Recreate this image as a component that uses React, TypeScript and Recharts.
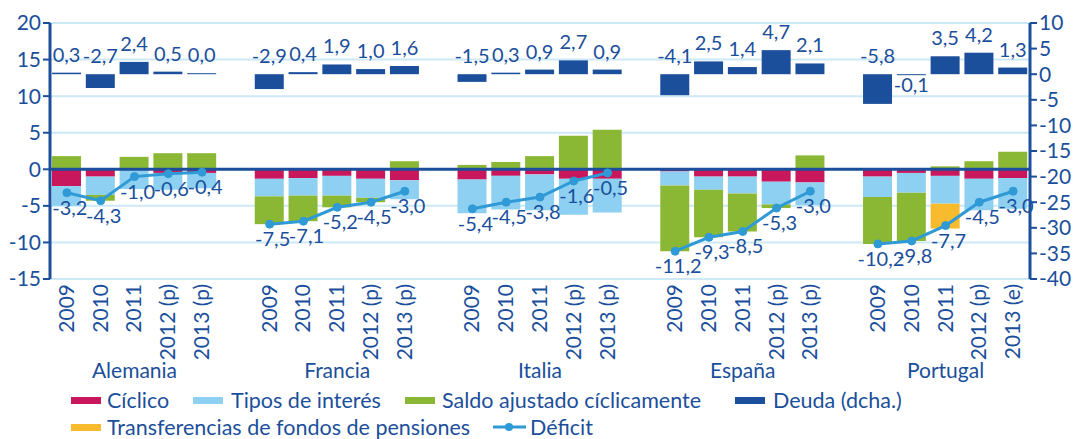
import {
  ComposedChart,
  Bar,
  Line,
  XAxis,
  YAxis,
  CartesianGrid,
  ReferenceLine,
  LabelList,
} from "recharts";

const countries = ["Alemania", "Francia", "Italia", "España", "Portugal"];

const years = [
  ["2009", "2010", "2011", "2012 (p)", "2013 (p)"],
  ["2009", "2010", "2011", "2012 (p)", "2013 (p)"],
  ["2009", "2010", "2011", "2012 (p)", "2013 (p)"],
  ["2009", "2010", "2011", "2012 (p)", "2013 (p)"],
  ["2009", "2010", "2011", "2012 (p)", "2013 (e)"],
];

const ciclico = [
  [-2.3, -1.0, 0.0, -0.5, -0.5],
  [-1.3, -1.2, -0.9, -1.3, -1.5],
  [-1.4, -0.9, -0.7, -1.3, -1.3],
  [-0.3, -1.0, -1.0, -1.7, -1.8],
  [-1.0, -0.5, -0.9, -1.3, -1.2],
];

const tipos = [
  [-2.7, -2.5, -2.7, -2.3, -2.1],
  [-2.4, -2.4, -2.7, -2.6, -2.6],
  [-4.6, -4.6, -4.9, -4.9, -4.6],
  [-1.9, -1.8, -2.3, -3.1, -3.1],
  [-2.8, -2.7, -3.8, -4.3, -4.2],
];

const saldo = [
  [1.8, -0.8, 1.7, 2.2, 2.2],
  [-3.8, -3.5, -1.6, -0.6, 1.1],
  [0.6, 1.0, 1.8, 4.6, 5.4],
  [-9.0, -6.5, -5.2, -0.5, 1.9],
  [-6.4, -6.6, 0.4, 1.1, 2.4],
];

const transferencias = [
  [0, 0, 0, 0, 0],
  [0, 0, 0, 0, 0],
  [0, 0, 0, 0, 0],
  [0, 0, 0, 0, 0],
  [0, 0, -3.4, 0, 0],
];

const deuda = [
  [0.3, -2.7, 2.4, 0.5, 0.0],
  [-2.9, 0.4, 1.9, 1.0, 1.6],
  [-1.5, 0.3, 0.9, 2.7, 0.9],
  [-4.1, 2.5, 1.4, 4.7, 2.1],
  [-5.8, -0.1, 3.5, 4.2, 1.3],
];

const deficit = [
  [-3.2, -4.3, -1.0, -0.6, -0.4],
  [-7.5, -7.1, -5.2, -4.5, -3.0],
  [-5.4, -4.5, -3.8, -1.6, -0.5],
  [-11.2, -9.3, -8.5, -5.3, -3.0],
  [-10.2, -9.8, -7.7, -4.5, -3.0],
];

const leftTicks = [-15, -10, -5, 0, 5, 10, 15, 20];
const rightTicks = [-40, -35, -30, -25, -20, -15, -10, -5, 0, 5, 10];

const BLUE = "#1b4f9b";
const RED = "#c8175c";
const LIGHT = "#8dd0f1";
const GREEN = "#8bb834";
const YELLOW = "#f8bb2e";
const LINE = "#2f9ad5";
const GRID = "#cde9f6";
const FONT = "Lato, Roboto, sans-serif";

const CHART_H = 439;
const XAXIS_H = 160;
const PLOT_BOTTOM = CHART_H - XAXIS_H;

// one row per bar, with an empty row between countries
const rows: any[] = [];
countries.forEach((c, ci) => {
  if (ci > 0) rows.push({ key: `gap${ci}`, year: "", country: "" });
  years[ci].forEach((y, yi) => {
    rows.push({
      key: `${c}-${yi}`,
      year: y,
      country: yi === 2 ? c : "",
      ciclico: ciclico[ci][yi],
      tipos: tipos[ci][yi],
      saldo: saldo[ci][yi],
      transferencias: transferencias[ci][yi],
      deuda: deuda[ci][yi],
      deficit: deficit[ci][yi],
    });
  });
});

const fmt = (v: number) => v.toFixed(1).replace(".", ",");

const YearTick = (props: any) => {
  const { x, index } = props;
  const row = rows[index];
  if (!row || !row.year) return null;
  return (
    <g>
      <text
        x={0}
        y={0}
        transform={`translate(${x + 7},${PLOT_BOTTOM + 5}) rotate(-90)`}
        textAnchor="end"
        fill={BLUE}
        fontSize={21}
        fontFamily={FONT}
      >
        {row.year}
      </text>
      {row.country && (
        <text x={x} y={PLOT_BOTTOM + 99} textAnchor="middle" fill={BLUE} fontSize={21} fontFamily={FONT}>
          {row.country}
        </text>
      )}
    </g>
  );
};

const DeudaLabel = (props: any) => {
  const { x, y, width, height, value } = props;
  if (value === undefined || value === null) return null;
  const top = Math.min(y, y + height);
  const bottom = Math.max(y, y + height);
  const below = value < 0 && value > -0.5;
  return (
    <text
      x={x + width / 2}
      y={below ? bottom + 17 : top - 11}
      textAnchor="middle"
      fill={BLUE}
      fontSize={20}
      fontFamily={FONT}
    >
      {fmt(value)}
    </text>
  );
};

const DeficitLabel = (props: any) => {
  const { x, y, value } = props;
  if (value === undefined || value === null) return null;
  return (
    <text x={x + 3} y={y + 22} textAnchor="middle" fill={BLUE} fontSize={20} fontFamily={FONT}>
      {fmt(value)}
    </text>
  );
};

const legendRow1 = [
  { name: "Cíclico", color: RED, sx: 71, tx: 107 },
  { name: "Tipos de interés", color: LIGHT, sx: 193, tx: 231 },
  { name: "Saldo ajustado cíclicamente", color: GREEN, sx: 405, tx: 442 },
  { name: "Deuda (dcha.)", color: BLUE, sx: 735, tx: 773 },
];

export default function App() {
  return (
    <div
      style={{
        position: "absolute",
        left: 0,
        top: 0,
        width: 1083,
        height: 439,
        background: "#fff",
        fontFamily: FONT,
        color: BLUE,
      }}
    >
      <ComposedChart
        width={1083}
        height={CHART_H}
        data={rows}
        stackOffset="sign"
        barSize={29}
        margin={{ top: 23, right: 0, left: 0, bottom: 0 }}
      >
        <CartesianGrid yAxisId="left" xAxisId="main" vertical={false} stroke={GRID} strokeWidth={2} />
        <XAxis
          xAxisId="main"
          dataKey="key"
          interval={0}
          height={XAXIS_H}
          axisLine={false}
          tickLine={false}
          tick={<YearTick />}
        />
        <XAxis xAxisId="d" dataKey="key" hide />
        <YAxis
          yAxisId="left"
          width={50}
          domain={[-15, 20]}
          ticks={leftTicks}
          interval={0}
          axisLine={{ stroke: BLUE, strokeWidth: 3 }}
          tickLine={{ stroke: BLUE, strokeWidth: 2 }}
          tickSize={7}
          tick={{ fill: BLUE, fontSize: 21, fontFamily: FONT }}
        />
        <YAxis
          yAxisId="right"
          orientation="right"
          width={53}
          domain={[-40, 10]}
          ticks={rightTicks}
          interval={0}
          axisLine={{ stroke: BLUE, strokeWidth: 3 }}
          tickLine={{ stroke: BLUE, strokeWidth: 2 }}
          tickSize={7}
          tick={{ fill: BLUE, fontSize: 21, fontFamily: FONT }}
        />
        <Bar xAxisId="main" yAxisId="left" dataKey="ciclico" stackId="s" fill={RED} isAnimationActive={false} />
        <Bar xAxisId="main" yAxisId="left" dataKey="tipos" stackId="s" fill={LIGHT} isAnimationActive={false} />
        <Bar xAxisId="main" yAxisId="left" dataKey="saldo" stackId="s" fill={GREEN} isAnimationActive={false} />
        <Bar
          xAxisId="main"
          yAxisId="left"
          dataKey="transferencias"
          stackId="s"
          fill={YELLOW}
          isAnimationActive={false}
        />
        <Bar xAxisId="d" yAxisId="right" dataKey="deuda" fill={BLUE} minPointSize={1} isAnimationActive={false}>
          <LabelList dataKey="deuda" content={<DeudaLabel />} />
        </Bar>
        <ReferenceLine xAxisId="main" yAxisId="left" y={0} stroke={BLUE} strokeWidth={3} />
        <Line
          xAxisId="main"
          yAxisId="left"
          dataKey="deficit"
          stroke={LINE}
          strokeWidth={3}
          dot={{ r: 4, fill: LINE, stroke: LINE, strokeWidth: 1 }}
          connectNulls={false}
          isAnimationActive={false}
        >
          <LabelList dataKey="deficit" content={<DeficitLabel />} />
        </Line>
      </ComposedChart>

      {legendRow1.map((l) => (
        <div key={l.name}>
          <div
            style={{ position: "absolute", left: l.sx, top: 397, width: 30, height: 7, background: l.color }}
          />
          <div style={{ position: "absolute", left: l.tx, top: 387, fontSize: 21.5, lineHeight: "26px" }}>
            {l.name}
          </div>
        </div>
      ))}
      <div style={{ position: "absolute", left: 71, top: 424, width: 30, height: 7, background: YELLOW }} />
      <div style={{ position: "absolute", left: 107, top: 414, fontSize: 21.5, lineHeight: "26px" }}>
        Transferencias de fondos de pensiones
      </div>
      <svg style={{ position: "absolute", left: 493, top: 420 }} width={33} height={14}>
        <line x1={0} y1={7} x2={33} y2={7} stroke={LINE} strokeWidth={3} />
        <circle cx={16} cy={7} r={4} fill={LINE} />
      </svg>
      <div style={{ position: "absolute", left: 530, top: 414, fontSize: 21.5, lineHeight: "26px" }}>
        Déficit
      </div>
    </div>
  );
}
